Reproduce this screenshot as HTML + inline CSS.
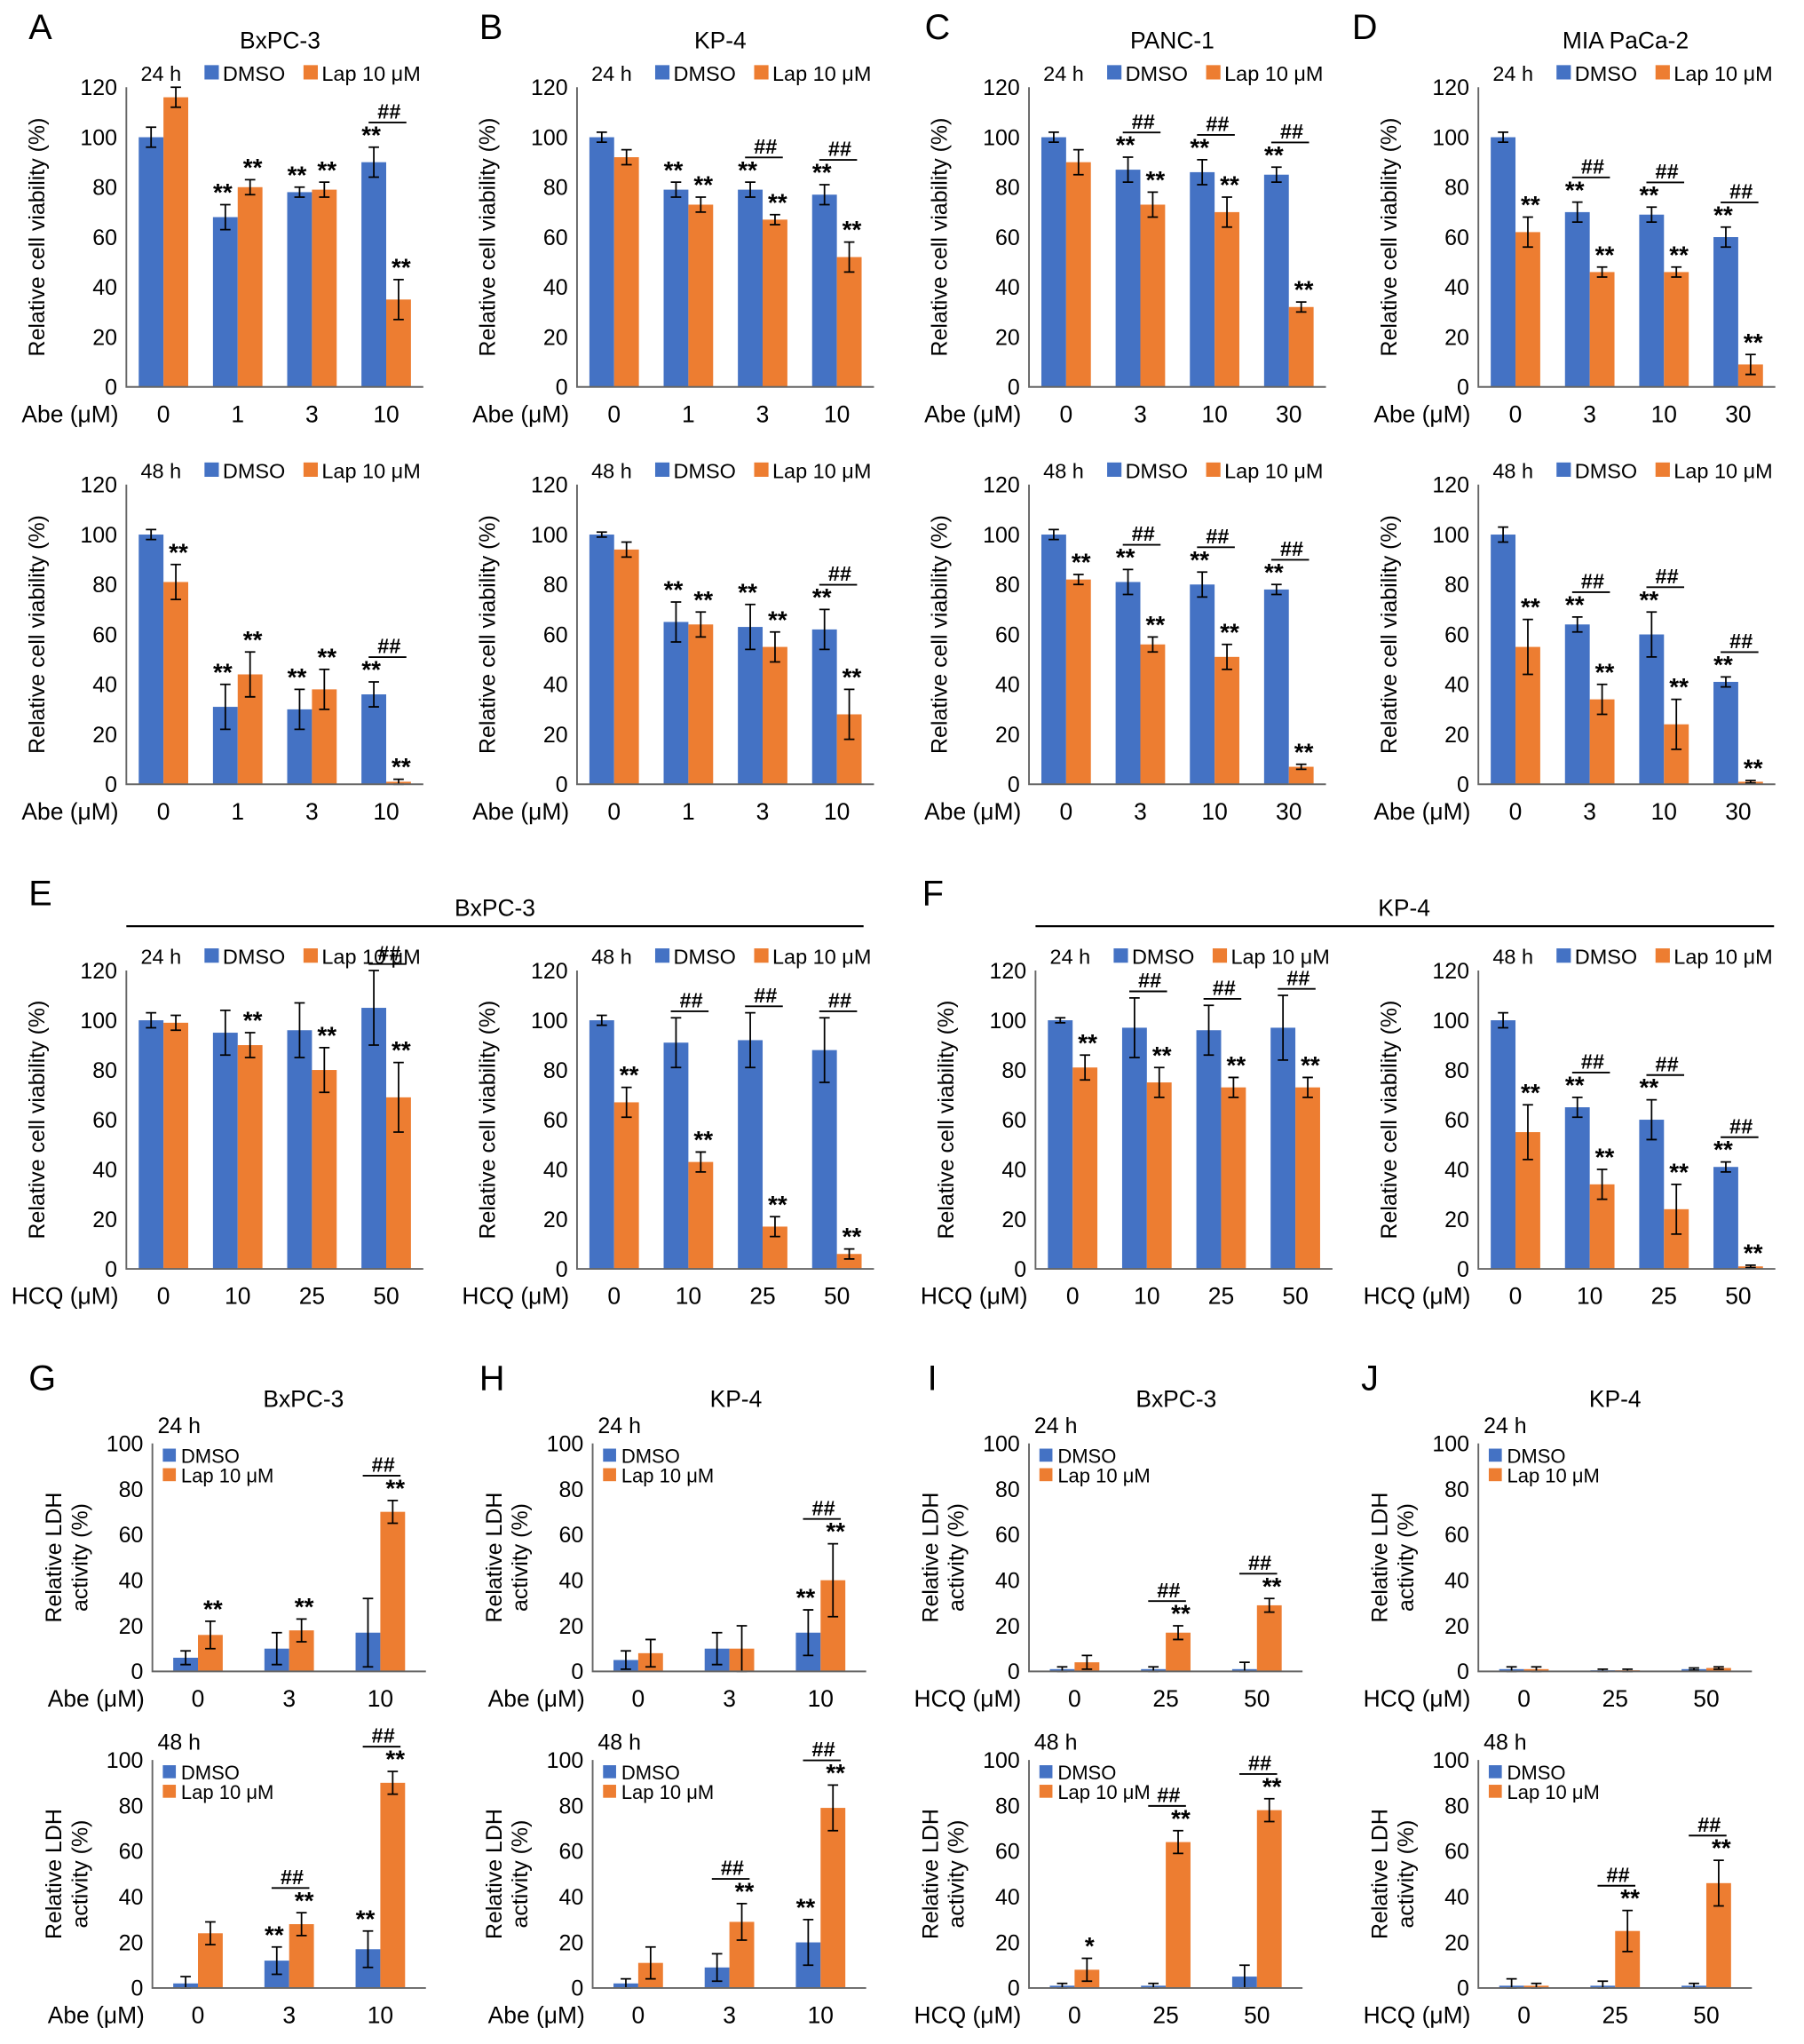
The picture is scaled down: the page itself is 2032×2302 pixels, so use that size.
<!DOCTYPE html>
<html><head><meta charset="utf-8"><style>
html,body{margin:0;padding:0;background:#fff}
svg{display:block;font-family:"Liberation Sans",sans-serif}
</style></head><body>
<svg id="fig" width="2032" height="2302" viewBox="0 0 1385 1569" preserveAspectRatio="none"></svg>
<script>
// ---- data arrays (values in %) ----
const abeCats=["0","1","3","10"];
const abeCats2=["0","3","10","30"];
const hcqCats=["0","10","25","50"];
const ldhAbeCats=["0","3","10"];
const ldhHcqCats=["0","25","50"];

const A24_d=[100,68,78,90], A24_de=[4,5,2,6], A24_l=[116,80,79,35], A24_le=[4,3,3,8];
const A48_d=[100,31,30,36], A48_de=[2,9,8,5], A48_l=[81,44,38,1], A48_le=[7,9,8,1];
const B24_d=[100,79,79,77], B24_de=[2,3,3,4], B24_l=[92,73,67,52], B24_le=[3,3,2,6];
const B48_d=[100,65,63,62], B48_de=[1,8,9,8], B48_l=[94,64,55,28], B48_le=[3,5,6,10];
const C24_d=[100,87,86,85], C24_de=[2,5,5,3], C24_l=[90,73,70,32], C24_le=[5,5,6,2];
const C48_d=[100,81,80,78], C48_de=[2,5,5,2], C48_l=[82,56,51,7], C48_le=[2,3,5,1];
const D24_d=[100,70,69,60], D24_de=[2,4,3,4], D24_l=[62,46,46,9], D24_le=[6,2,2,4];
const D48_d=[100,64,60,41], D48_de=[3,3,9,2], D48_l=[55,34,24,1], D48_le=[11,6,10,0.5];
const E24_d=[100,95,96,105], E24_de=[3,9,11,15], E24_l=[99,90,80,69], E24_le=[3,5,9,14];
const E48_d=[100,91,92,88], E48_de=[2,10,11,13], E48_l=[67,43,17,6], E48_le=[6,4,4,2];
const F24_d=[100,97,96,97], F24_de=[1,12,10,13], F24_l=[81,75,73,73], F24_le=[5,6,4,4];
const F48_d=[100,65,60,41], F48_de=[3,4,8,2], F48_l=[55,34,24,1], F48_le=[11,6,10,0.5];
const G24_d=[6,10,17], G24_de=[3,7,15], G24_l=[16,18,70], G24_le=[6,5,5];
const G48_d=[2,12,17], G48_de=[3,6,8], G48_l=[24,28,90], G48_le=[5,5,5];
const H24_d=[5,10,17], H24_de=[4,7,10], H24_l=[8,10,40], H24_le=[6,10,16];
const H48_d=[2,9,20], H48_de=[2,6,10], H48_l=[11,29,79], H48_le=[7,8,10];
const I24_d=[1,1,1], I24_de=[1,1,3], I24_l=[4,17,29], I24_le=[3,3,3];
const I48_d=[1,1,5], I48_de=[1,1,5], I48_l=[8,64,78], I48_le=[5,5,5];
const J24_d=[1,0.5,1], J24_de=[1,0.5,0.5], J24_l=[1,0.5,1.5], J24_le=[1,0.5,0.5];
const J48_d=[1,1,1], J48_de=[3,2,1], J48_l=[1,25,46], J48_le=[1,9,10];

// significance labels
const sA24d=["","**","**","**"], sA24l=["","**","**","**"], hA24=[0,0,0,1];
const sA48d=["","**","**","**"], sA48l=["**","**","**","**"], hA48=[0,0,0,1];
const sB24d=["","**","**","**"], sB24l=["","**","**","**"], hB24=[0,0,1,1];
const sB48d=["","**","**","**"], sB48l=["","**","**","**"], hB48=[0,0,0,1];
const sC24d=["","**","**","**"], sC24l=["","**","**","**"], hC24=[0,1,1,1];
const sC48d=["","**","**","**"], sC48l=["**","**","**","**"], hC48=[0,1,1,1];
const sD24d=["","**","**","**"], sD24l=["**","**","**","**"], hD24=[0,1,1,1];
const sD48d=["","**","**","**"], sD48l=["**","**","**","**"], hD48=[0,1,1,1];
const sE24d=["","","",""], sE24l=["","**","**","**"], hE24=[0,0,0,1];
const sE48d=["","","",""], sE48l=["**","**","**","**"], hE48=[0,1,1,1];
const sF24d=["","","",""], sF24l=["**","**","**","**"], hF24=[0,1,1,1];
const sF48d=["","**","**","**"], sF48l=["**","**","**","**"], hF48=[0,1,1,1];
const sG24d=["","",""], sG24l=["**","**","**"], hG24=[0,0,1];
const sG48d=["","**","**"], sG48l=["","**","**"], hG48=[0,1,1];
const sH24d=["","","**"], sH24l=["","","**"], hH24=[0,0,1];
const sH48d=["","","**"], sH48l=["","**","**"], hH48=[0,1,1];
const sI24d=["","",""], sI24l=["","**","**"], hI24=[0,1,1];
const sI48d=["","",""], sI48l=["*","**","**"], hI48=[0,1,1];
const sJ24d=["","",""], sJ24l=["","",""], hJ24=[0,0,0];
const sJ48d=["","",""], sJ48l=["","**","**"], hJ48=[0,1,1];

const BLUE="#4472C4", ORANGE="#ED7D31", NS="http://www.w3.org/2000/svg";
const svg=document.getElementById("fig");
function el(tag,attrs,parent,txt){const e=document.createElementNS(NS,tag);for(const k in attrs)e.setAttribute(k,attrs[k]);if(txt!==undefined)e.textContent=txt;(parent||svg).appendChild(e);return e;}
function txt(x,y,s,size,anchor,parent,extra){const t=el("text",Object.assign({x:x,y:y,"font-size":size,"text-anchor":anchor||"middle",fill:"#000"},extra||{}),parent,s);return t;}

function chart(id,o,cats,d,de,l,le,sd,sl,hh){
  const g=el("g",{},svg);
  
  
  const ymax=o.ymax, H=o.bot-o.top;
  const ys=v=>o.bot-v/ymax*H;
  const n=cats.length, step=o.w/n;
  const xc=i=>o.x+step*(i+0.5);
  const bw=o.bw;
  // ticks
  for(let v=0;v<=ymax;v+=20){const t=txt(o.x-7,ys(v)+6,String(v),17,"end",g);
    
    }
  // axis title
  const cy=(o.top+o.bot)/2;
  if(o.ldh){
    let t=txt(o.x-70,cy,"Relative LDH",17,"middle",g,{transform:`rotate(-90 ${o.x-70} ${cy})`});
    
    
    t=txt(o.x-50,cy,"activity (%)",17,"middle",g,{transform:`rotate(-90 ${o.x-50} ${cy})`});
    
    
  } else {
    const tx=o.x-63;
    const t=txt(tx,cy,"Relative cell viability (%)",17,"middle",g,{transform:`rotate(-90 ${tx} ${cy})`});
    
    
  }
  // bars
  for(let i=0;i<n;i++){
    const c=xc(i)+(o.shift||0);
    [[d,de,BLUE,c-bw,sd],[l,le,ORANGE,c,sl]].forEach(([vals,errs,col,x0,sig],k)=>{
      const y=ys(vals[i]);
      const r=el("rect",{x:x0,y:y,width:bw,height:o.bot-y,fill:col},g);
      
      
      const mx=x0+bw/2, yt=ys(vals[i]+errs[i]), yb=ys(Math.max(0,vals[i]-errs[i]));
      const p=el("path",{d:`M${mx} ${yt}V${yb}M${mx-4} ${yt}H${mx+4}M${mx-4} ${yb}H${mx+4}`,stroke:"#000","stroke-width":1.2,fill:"none"},g);
      
      
      if(sig[i]){const s=txt(mx+(k?2:-2),yt-3,sig[i],19,"middle",g,{"font-weight":"bold"});
        
        }
    });
    if(hh[i]){
      let top=Math.min(ys(d[i]+de[i])-(sd[i]?14:0),ys(l[i]+le[i])-(sl[i]?14:0));
      const ly=top-5;
      const hl=el("line",{x1:c-bw/2-4,x2:c+bw/2+6,y1:ly,y2:ly,stroke:"#000","stroke-width":1.3},g);
      
      
      const ht=txt(c+2,ly-3,"##",16,"middle",g,{"font-style":"italic","font-weight":"bold"});
      
      
    }
  }
  // axes
  const ax=el("path",{d:`M${o.x} ${o.top}V${o.bot}H${o.x+o.w}`,stroke:"#666","stroke-width":1.3,fill:"none"},g);
  
  
  // categories
  const cl=txt(o.x-6,o.bot+27,o.xlab,18,"end",g);
  
  
  for(let i=0;i<n;i++){const t=txt(xc(i)+(o.shift||0),o.bot+27,cats[i],18,"middle",g);
    
    }
  // legend
  if(o.ldh){
    const a=txt(o.x+4,o.top-8,o.time,17,"start",g);
    
    const s1=el("rect",{x:o.x+8,y:o.top+4,width:10,height:10,fill:BLUE},g);
    
    const t1=txt(o.x+22,o.top+15,"DMSO",15,"start",g);
    
    const s2=el("rect",{x:o.x+8,y:o.top+19,width:10,height:10,fill:ORANGE},g);
    
    const t2=txt(o.x+22,o.top+30,"Lap 10 μM",15,"start",g);
    
  } else {
    const ly=o.top-5;
    const a=txt(o.x+11,ly,o.time,16,"start",g);
    
    const s1=el("rect",{x:o.x+60,y:ly-12,width:11,height:11,fill:BLUE},g);
    
    const t1=txt(o.x+74,ly,"DMSO",16,"start",g);
    
    const s2=el("rect",{x:o.x+136,y:ly-12,width:11,height:11,fill:ORANGE},g);
    
    const t2=txt(o.x+150,ly,"Lap 10 μM",16,"start",g);
    
  }
}
function P(x,top,bot,time,xlab){return {x:x,top:top,bot:bot,w:228,ymax:120,bw:19,time:time,xlab:xlab};}
function L(x,top,bot,time,xlab){return {x:x,top:top,bot:bot,w:210,ymax:100,bw:19,time:time,xlab:xlab,ldh:true};}
const R1=[67,297],R2=[372,602],RE=[745,974],RG1=[1108,1283],RG2=[1351,1526];
chart("chart-a-24h",P(97,R1[0],R1[1],"24 h","Abe (μM)"),abeCats,A24_d,A24_de,A24_l,A24_le,sA24d,sA24l,hA24);
chart("chart-a-48h",P(97,R2[0],R2[1],"48 h","Abe (μM)"),abeCats,A48_d,A48_de,A48_l,A48_le,sA48d,sA48l,hA48);
chart("chart-b-24h",P(443,R1[0],R1[1],"24 h","Abe (μM)"),abeCats,B24_d,B24_de,B24_l,B24_le,sB24d,sB24l,hB24);
chart("chart-b-48h",P(443,R2[0],R2[1],"48 h","Abe (μM)"),abeCats,B48_d,B48_de,B48_l,B48_le,sB48d,sB48l,hB48);
chart("chart-c-24h",P(790,R1[0],R1[1],"24 h","Abe (μM)"),abeCats2,C24_d,C24_de,C24_l,C24_le,sC24d,sC24l,hC24);
chart("chart-c-48h",P(790,R2[0],R2[1],"48 h","Abe (μM)"),abeCats2,C48_d,C48_de,C48_l,C48_le,sC48d,sC48l,hC48);
chart("chart-d-24h",P(1135,R1[0],R1[1],"24 h","Abe (μM)"),abeCats2,D24_d,D24_de,D24_l,D24_le,sD24d,sD24l,hD24);
chart("chart-d-48h",P(1135,R2[0],R2[1],"48 h","Abe (μM)"),abeCats2,D48_d,D48_de,D48_l,D48_le,sD48d,sD48l,hD48);
chart("chart-e-24h",P(97,RE[0],RE[1],"24 h","HCQ (μM)"),hcqCats,E24_d,E24_de,E24_l,E24_le,sE24d,sE24l,hE24);
chart("chart-e-48h",P(443,RE[0],RE[1],"48 h","HCQ (μM)"),hcqCats,E48_d,E48_de,E48_l,E48_le,sE48d,sE48l,hE48);
chart("chart-f-24h",P(795,RE[0],RE[1],"24 h","HCQ (μM)"),hcqCats,F24_d,F24_de,F24_l,F24_le,sF24d,sF24l,hF24);
chart("chart-f-48h",P(1135,RE[0],RE[1],"48 h","HCQ (μM)"),hcqCats,F48_d,F48_de,F48_l,F48_le,sF48d,sF48l,hF48);
chart("chart-g-24h",L(117,RG1[0],RG1[1],"24 h","Abe (μM)"),ldhAbeCats,G24_d,G24_de,G24_l,G24_le,sG24d,sG24l,hG24);
chart("chart-g-48h",L(117,RG2[0],RG2[1],"48 h","Abe (μM)"),ldhAbeCats,G48_d,G48_de,G48_l,G48_le,sG48d,sG48l,hG48);
chart("chart-h-24h",L(455,RG1[0],RG1[1],"24 h","Abe (μM)"),ldhAbeCats,H24_d,H24_de,H24_l,H24_le,sH24d,sH24l,hH24);
chart("chart-h-48h",L(455,RG2[0],RG2[1],"48 h","Abe (μM)"),ldhAbeCats,H48_d,H48_de,H48_l,H48_le,sH48d,sH48l,hH48);
chart("chart-i-24h",L(790,RG1[0],RG1[1],"24 h","HCQ (μM)"),ldhHcqCats,I24_d,I24_de,I24_l,I24_le,sI24d,sI24l,hI24);
chart("chart-i-48h",L(790,RG2[0],RG2[1],"48 h","HCQ (μM)"),ldhHcqCats,I48_d,I48_de,I48_l,I48_le,sI48d,sI48l,hI48);
chart("chart-j-24h",L(1135,RG1[0],RG1[1],"24 h","HCQ (μM)"),ldhHcqCats,J24_d,J24_de,J24_l,J24_le,sJ24d,sJ24l,hJ24);
chart("chart-j-48h",L(1135,RG2[0],RG2[1],"48 h","HCQ (μM)"),ldhHcqCats,J48_d,J48_de,J48_l,J48_le,sJ48d,sJ48l,hJ48);

// panel letters and titles
const letters=[["A",22,30],["B",368,30],["C",710,30],["D",1038,30],["E",22,695],["F",708,695],["G",22,1067],["H",368,1067],["I",712,1067],["J",1045,1067]];
letters.forEach(([s,x,y])=>{const t=txt(x,y,s,27,"start");
  
  });
const titles=[["BxPC-3",215,37],["KP-4",553,37],["PANC-1",900,37],["MIA PaCa-2",1248,37],["BxPC-3",380,703],["KP-4",1078,703],["BxPC-3",233,1080],["KP-4",565,1080],["BxPC-3",903,1080],["KP-4",1240,1080]];
titles.forEach(([s,x,y])=>{const t=txt(x,y,s,18,"middle");
  
  });
[[97,663],[795,1362]].forEach(([a,b])=>{const l=el("line",{x1:a,x2:b,y1:711,y2:711,stroke:"#000","stroke-width":1.5});
  
  });
</script>
</body></html>
